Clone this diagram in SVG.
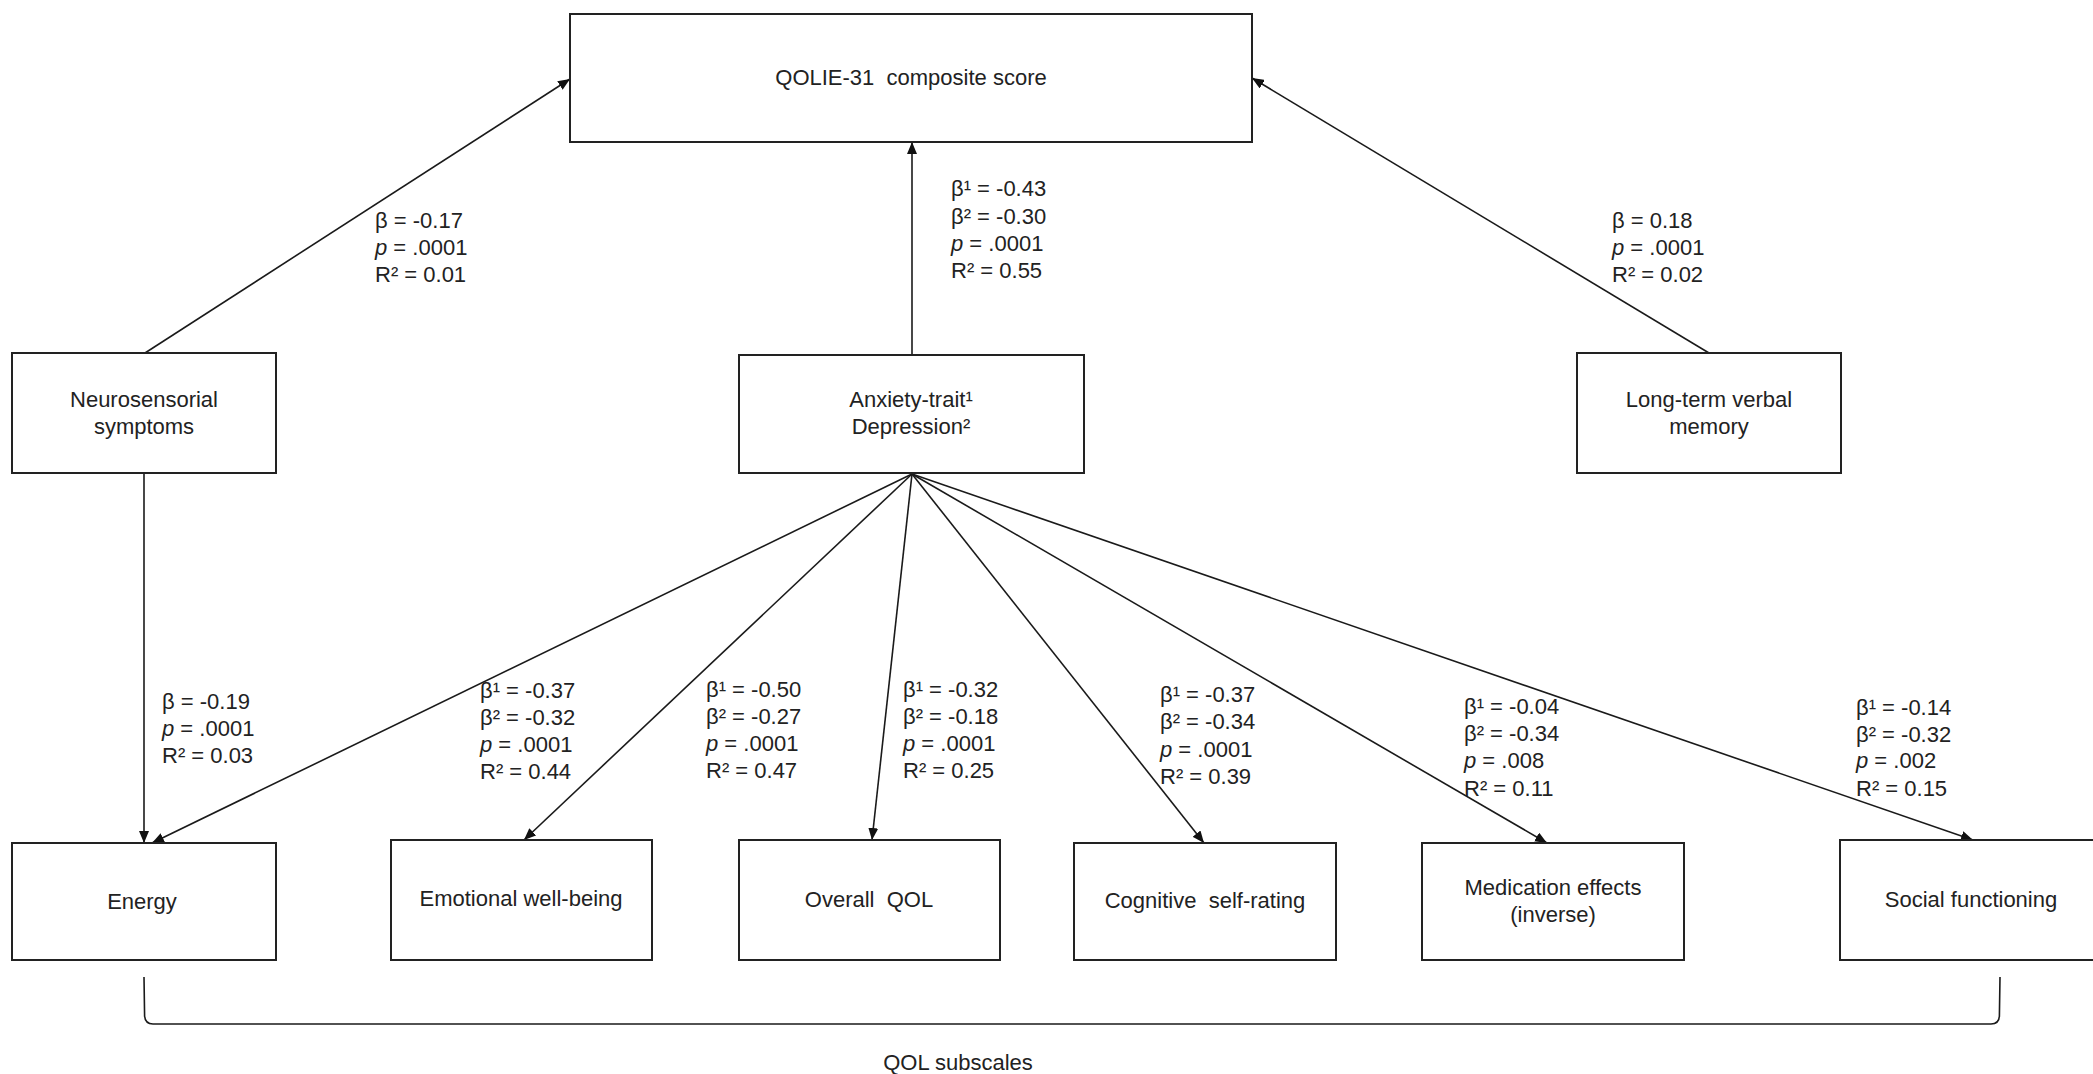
<svg xmlns="http://www.w3.org/2000/svg" width="2093" height="1074" viewBox="0 0 2093 1074">
<style>
text{font-family:"Liberation Sans",Arial,sans-serif;font-size:22px;fill:#222}
.c{text-anchor:middle}
.box{fill:#fff;stroke:#222;stroke-width:2}
.ln{stroke:#1a1a1a;stroke-width:1.6;fill:none}
.it{font-style:italic}
</style>
<defs>
<marker id="ah" viewBox="0 0 12 10" refX="12" refY="5" markerWidth="12" markerHeight="10" markerUnits="userSpaceOnUse" orient="auto">
<path d="M0,0 L12,5 L0,10 z" fill="#111"/>
</marker>
</defs>
<rect width="2093" height="1074" fill="#fff"/>

<g id="connectors">
<line class="ln" x1="145" y1="353" x2="570" y2="79" marker-end="url(#ah)"/>
<line class="ln" x1="912" y1="355" x2="912" y2="142" marker-end="url(#ah)"/>
<line class="ln" x1="1709" y1="353" x2="1252" y2="78" marker-end="url(#ah)"/>
<line class="ln" x1="144" y1="473" x2="144" y2="843" marker-end="url(#ah)"/>
<line class="ln" x1="912" y1="474" x2="152" y2="843" marker-end="url(#ah)"/>
<line class="ln" x1="912" y1="474" x2="524" y2="840" marker-end="url(#ah)"/>
<line class="ln" x1="912" y1="474" x2="872" y2="840" marker-end="url(#ah)"/>
<line class="ln" x1="912" y1="474" x2="1204" y2="843" marker-end="url(#ah)"/>
<line class="ln" x1="912" y1="474" x2="1547" y2="843" marker-end="url(#ah)"/>
<line class="ln" x1="912" y1="474" x2="1973" y2="840" marker-end="url(#ah)"/>
<path class="ln" d="M144,977 L144.6,1016 Q145.2,1024 153,1024 L1991,1024 Q1999,1024 1999.4,1016 L2000,977"/>
</g>

<g id="labels">
<text x="375" y="228">β = -0.17</text>
<text x="375" y="255"><tspan class="it">p</tspan> = .0001</text>
<text x="375" y="282">R² = 0.01</text>

<text x="951" y="196">β¹ = -0.43</text>
<text x="951" y="223.5">β² = -0.30</text>
<text x="951" y="251"><tspan class="it">p</tspan> = .0001</text>
<text x="951" y="278">R² = 0.55</text>

<text x="1612" y="228">β = 0.18</text>
<text x="1612" y="255"><tspan class="it">p</tspan> = .0001</text>
<text x="1612" y="282">R² = 0.02</text>

<text x="162" y="709">β = -0.19</text>
<text x="162" y="736"><tspan class="it">p</tspan> = .0001</text>
<text x="162" y="763">R² = 0.03</text>

<text x="480" y="698">β¹ = -0.37</text>
<text x="480" y="725">β² = -0.32</text>
<text x="480" y="752"><tspan class="it">p</tspan> = .0001</text>
<text x="480" y="779">R² = 0.44</text>

<text x="706" y="697">β¹ = -0.50</text>
<text x="706" y="724">β² = -0.27</text>
<text x="706" y="751"><tspan class="it">p</tspan> = .0001</text>
<text x="706" y="778">R² = 0.47</text>

<text x="903" y="697">β¹ = -0.32</text>
<text x="903" y="724">β² = -0.18</text>
<text x="903" y="751"><tspan class="it">p</tspan> = .0001</text>
<text x="903" y="778">R² = 0.25</text>

<text x="1160" y="702">β¹ = -0.37</text>
<text x="1160" y="729">β² = -0.34</text>
<text x="1160" y="757"><tspan class="it">p</tspan> = .0001</text>
<text x="1160" y="784">R² = 0.39</text>

<text x="1464" y="714">β¹ = -0.04</text>
<text x="1464" y="741">β² = -0.34</text>
<text x="1464" y="768"><tspan class="it">p</tspan> = .008</text>
<text x="1464" y="796">R² = 0.11</text>

<text x="1856" y="715">β¹ = -0.14</text>
<text x="1856" y="742">β² = -0.32</text>
<text x="1856" y="768"><tspan class="it">p</tspan> = .002</text>
<text x="1856" y="796">R² = 0.15</text>

<text class="c" x="958" y="1070">QOL subscales</text>
</g>

<g id="qolie">
<rect class="box" x="570" y="14" width="682" height="128"/>
<text class="c" x="911" y="85" xml:space="preserve">QOLIE-31  composite score</text>
</g>
<g id="neurosensorial">
<rect class="box" x="12" y="353" width="264" height="120"/>
<text class="c" x="144" y="407">Neurosensorial</text>
<text class="c" x="144" y="434">symptoms</text>
</g>
<g id="anxiety">
<rect class="box" x="739" y="355" width="345" height="118"/>
<text class="c" x="911" y="407">Anxiety-trait¹</text>
<text class="c" x="911" y="434">Depression²</text>
</g>
<g id="longterm">
<rect class="box" x="1577" y="353" width="264" height="120"/>
<text class="c" x="1709" y="407">Long-term verbal</text>
<text class="c" x="1709" y="434">memory</text>
</g>
<g id="energy">
<rect class="box" x="12" y="843" width="264" height="117"/>
<text class="c" x="142" y="909">Energy</text>
</g>
<g id="emotional">
<rect class="box" x="391" y="840" width="261" height="120"/>
<text class="c" x="521" y="906">Emotional well-being</text>
</g>
<g id="overall">
<rect class="box" x="739" y="840" width="261" height="120"/>
<text class="c" x="869" y="907" xml:space="preserve">Overall  QOL</text>
</g>
<g id="cognitive">
<rect class="box" x="1074" y="843" width="262" height="117"/>
<text class="c" x="1205" y="908" xml:space="preserve">Cognitive  self-rating</text>
</g>
<g id="medication">
<rect class="box" x="1422" y="843" width="262" height="117"/>
<text class="c" x="1553" y="895">Medication effects</text>
<text class="c" x="1553" y="922">(inverse)</text>
</g>
<g id="social">
<rect class="box" x="1840" y="840" width="262" height="120"/>
<text class="c" x="1971" y="907">Social functioning</text>
</g>
</svg>
